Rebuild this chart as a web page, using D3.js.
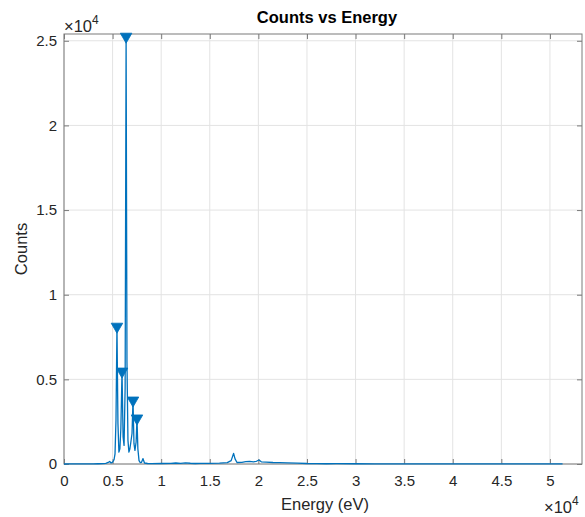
<!DOCTYPE html>
<html>
<head>
<meta charset="utf-8">
<script src="https://cdn.jsdelivr.net/npm/d3@7"></script>
<style>
  body { margin: 0; background: #fff; }
  svg { font-family: "Liberation Sans", Arial, Helvetica, sans-serif; }
</style>
</head>
<body>
<svg id="plot" width="585" height="517"></svg>
<script>
// spectrum (energy in eV, counts)
const energy = [0, 500, 1000, 1500, 2000, 2500, 3000, 3500, 4000, 4300, 4550, 4700, 4850, 5000,
  5150, 5250, 5350, 5450, 5550, 5650, 5750, 5850, 5970, 6080, 6180, 6290, 6390, 6480, 6580,
  6680, 6780, 6880, 7000, 7100, 7200, 7300, 7420, 7510, 7600, 7720, 7850, 7980, 8130, 8280,
  8600, 9000, 10000, 11000, 11500, 12000, 12500, 13000, 13500, 14000, 15000, 16000, 16800,
  17200, 17450, 17600, 17800, 18300, 18700, 19100, 19500, 19800, 20060, 20300, 20800, 21500,
  22200, 23000, 24000, 25000, 26000, 27000, 28000, 30000, 32000, 34000, 36000, 38000, 40000,
  42000, 44000, 46000, 48000, 50000, 51300];
const counts = [0, 5, 8, 5, 10, 8, 12, 15, 20, 40, 90, 150, 60, 110,
  250, 600, 2600, 8120, 2400, 700, 900, 2100, 5470, 1600, 1100, 4500, 25250, 6000, 1400,
  700, 900, 1300, 1800, 3760, 1200, 800, 1300, 2700, 900, 200, 80, 100, 320, 60,
  30, 25, 30, 40, 60, 35, 70, 45, 30, 40, 35, 50, 80,
  200, 630, 300, 90, 100, 140, 150, 130, 160, 235, 130, 110, 90,
  80, 70, 55, 30, 20, 15, 20, 15, 12, 10, 10, 8, 8,
  6, 6, 5, 5, 4, 3];

// peaks marked with triangles
const peakEnergy = [5450, 5970, 6390, 7100, 7510];
const peakCounts = [8120, 5470, 25250, 3760, 2700];

const xTicks = [0, 5000, 10000, 15000, 20000, 25000, 30000, 35000, 40000, 45000, 50000];
const xTickLabels = ['0', '0.5', '1', '1.5', '2', '2.5', '3', '3.5', '4', '4.5', '5'];
const yTicks = [0, 5000, 10000, 15000, 20000, 25000];
const yTickLabels = ['0', '0.5', '1', '1.5', '2', '2.5'];

const svg = d3.select('#plot');
const m = { left: 64, right: 582, top: 34, bottom: 464 };
const blue = '#0072BD';
const axisColor = '#7a7a7a';
const textColor = '#262626';

const xScale = d3.scaleLinear().domain([0, 53300]).range([m.left, m.right]);
const yScale = d3.scaleLinear().domain([0, 25400]).range([m.bottom, m.top]);

// grid
svg.append('g').selectAll('line').data(xTicks).enter().append('line')
  .attr('x1', d => xScale(d)).attr('x2', d => xScale(d))
  .attr('y1', m.top).attr('y2', m.bottom)
  .attr('stroke', '#e3e3e3').attr('stroke-width', 1);
svg.append('g').selectAll('line').data(yTicks).enter().append('line')
  .attr('x1', m.left).attr('x2', m.right)
  .attr('y1', d => yScale(d)).attr('y2', d => yScale(d))
  .attr('stroke', '#e3e3e3').attr('stroke-width', 1);

// axes with inward ticks on all four sides
const tickLen = 5;
svg.append('g').attr('transform', 'translate(0,' + m.bottom + ')')
  .call(d3.axisBottom(xScale).tickValues(xTicks).tickSizeInner(-tickLen).tickSizeOuter(0)
    .tickFormat((d, i) => xTickLabels[i]))
  .call(g => g.select('.domain').remove())
  .call(g => g.selectAll('line').attr('stroke', axisColor))
  .call(g => g.selectAll('text').attr('fill', textColor).attr('font-size', 15)
    .attr('font-family', null).attr('dy', null).attr('y', 22));
svg.append('g').attr('transform', 'translate(0,' + m.top + ')')
  .call(d3.axisTop(xScale).tickValues(xTicks).tickSizeInner(-tickLen).tickSizeOuter(0).tickFormat(''))
  .call(g => g.select('.domain').remove())
  .call(g => g.selectAll('line').attr('stroke', axisColor));
svg.append('g').attr('transform', 'translate(' + m.left + ',0)')
  .call(d3.axisLeft(yScale).tickValues(yTicks).tickSizeInner(-tickLen).tickSizeOuter(0)
    .tickFormat((d, i) => yTickLabels[i]))
  .call(g => g.select('.domain').remove())
  .call(g => g.selectAll('line').attr('stroke', axisColor))
  .call(g => g.selectAll('text').attr('fill', textColor).attr('font-size', 15)
    .attr('font-family', null).attr('x', -7));
svg.append('g').attr('transform', 'translate(' + m.right + ',0)')
  .call(d3.axisRight(yScale).tickValues(yTicks).tickSizeInner(-tickLen).tickSizeOuter(0).tickFormat(''))
  .call(g => g.select('.domain').remove())
  .call(g => g.selectAll('line').attr('stroke', axisColor));

// box
svg.append('rect')
  .attr('x', m.left).attr('y', m.top)
  .attr('width', m.right - m.left).attr('height', m.bottom - m.top)
  .attr('fill', 'none').attr('stroke', axisColor).attr('stroke-width', 1);

// spectrum
const data = energy.map((e, i) => [e, counts[i]]);
const line = d3.line().x(d => xScale(d[0])).y(d => yScale(d[1]));
svg.append('path')
  .attr('d', line(data))
  .attr('fill', 'none')
  .attr('stroke', blue)
  .attr('stroke-width', 1.3)
  .attr('stroke-linejoin', 'round');

// peak markers
const tri = d3.symbol(d3.symbolTriangle, 58);
svg.append('g').selectAll('path').data(peakEnergy).enter().append('path')
  .attr('d', tri)
  .attr('transform', (d, i) => 'translate(' + xScale(d) + ',' + yScale(peakCounts[i]) + ') rotate(180)')
  .attr('fill', blue).attr('stroke', blue).attr('stroke-width', 0.8);

// title and labels
svg.append('text')
  .attr('x', (m.left + m.right) / 2 + 4).attr('y', 23)
  .attr('text-anchor', 'middle')
  .attr('font-size', 16.5).attr('font-weight', 'bold').attr('fill', '#000')
  .text('Counts vs Energy');
svg.append('text')
  .attr('x', (m.left + m.right) / 2 + 2).attr('y', 510)
  .attr('text-anchor', 'middle')
  .attr('font-size', 16.5).attr('fill', textColor)
  .text('Energy (eV)');
svg.append('text')
  .attr('transform', 'translate(27,249) rotate(-90)')
  .attr('text-anchor', 'middle')
  .attr('font-size', 16.5).attr('fill', textColor)
  .text('Counts');

// exponent labels
function exponent(x, y) {
  const t = svg.append('text').attr('x', x).attr('y', y)
    .attr('font-size', 16.5).attr('fill', textColor);
  t.append('tspan').attr('font-weight', 300).text('\u00d7');
  t.append('tspan').text('10');
  t.append('tspan').attr('dy', -8).attr('font-size', 12).text('4');
}
exponent(64, 32);
exponent(544, 513);
</script>
</body>
</html>
